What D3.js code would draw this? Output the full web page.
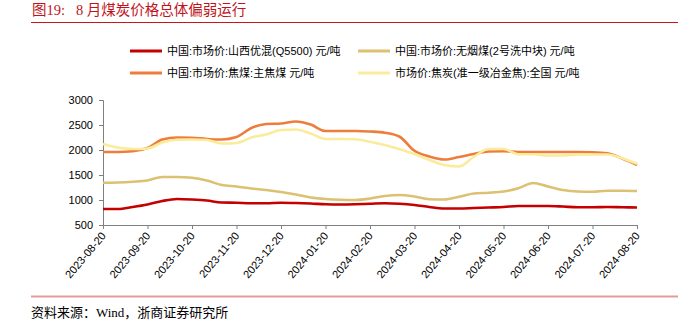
<!DOCTYPE html>
<html><head><meta charset="utf-8">
<script src="https://cdn.jsdelivr.net/npm/d3@7"></script>
<style>body{margin:0;background:#fff;} svg{display:block;}</style>
</head><body>
<script>
const dates = ["2023-08-20","2023-08-31","2023-09-10","2023-09-20","2023-09-30","2023-10-10","2023-10-20","2023-10-31","2023-11-10","2023-11-20","2023-11-30","2023-12-10","2023-12-20","2023-12-31","2024-01-10","2024-01-20","2024-01-31","2024-02-10","2024-02-20","2024-02-29","2024-03-10","2024-03-20","2024-03-31","2024-04-10","2024-04-20","2024-04-30","2024-05-10","2024-05-20","2024-05-31","2024-06-10","2024-06-20","2024-06-30","2024-07-10","2024-07-20","2024-07-31","2024-08-10","2024-08-20"];
const shanxiMixed = [820,820,860,910,980,1020,1010,990,950,945,935,935,945,940,930,915,910,915,925,935,925,900,860,830,830,840,850,860,880,880,880,870,855,855,860,855,850];
const anthracite = [1345,1350,1365,1390,1460,1460,1445,1390,1300,1270,1230,1200,1160,1110,1050,1020,1005,1000,1030,1080,1100,1070,1015,1010,1065,1130,1145,1170,1235,1340,1270,1200,1170,1165,1185,1185,1180];
const cokingCoal = [1960,1960,1975,2040,2210,2250,2245,2220,2210,2260,2440,2520,2530,2570,2510,2380,2380,2380,2370,2345,2265,1985,1870,1810,1860,1920,1970,1975,1960,1960,1960,1960,1960,1955,1935,1830,1700];
const coke = [2120,2050,2020,2030,2150,2205,2210,2200,2130,2140,2250,2310,2400,2410,2330,2220,2220,2215,2165,2100,2015,1920,1800,1700,1670,1865,2020,2020,1915,1915,1890,1890,1910,1910,1910,1835,1725];
const seriesNames = ["中国:市场价:山西优混(Q5500) 元/吨","中国:市场价:无烟煤(2号洗中块) 元/吨","中国:市场价:焦煤:主焦煤 元/吨","市场价:焦炭(准一级冶金焦):全国 元/吨"];
const seriesColors = ["#C40000","#DCC172","#EE7D3C","#FAEC9C"];
const yTicks = [500,1000,1500,2000,2500,3000];
const xTickLabels = ["2023-08-20","2023-09-20","2023-10-20","2023-11-20","2023-12-20","2024-01-20","2024-02-20","2024-03-20","2024-04-20","2024-05-20","2024-06-20","2024-07-20","2024-08-20"];
const titleText = "图19:   8 月煤炭价格总体偏弱运行";
const sourceText = "资料来源：Wind，浙商证券研究所";

const W = 698, H = 326;
const svg = d3.select("body").append("svg").attr("width", W).attr("height", H);
const cjk = "'Liberation Sans', Arial, 'Noto Sans CJK SC', sans-serif";
const serif = "'Liberation Serif', 'Noto Sans CJK SC', serif";

// title
svg.append("text").attr("x", 32).attr("y", 15).attr("fill", "#C0141C")
  .attr("font-family", serif).attr("font-size", 14.5).style("white-space", "pre")
  .attr("xml:space", "preserve").text(titleText);
svg.append("line").attr("x1", 31).attr("x2", 678).attr("y1", 22.5).attr("y2", 22.5)
  .attr("stroke", "#C8161D").attr("stroke-width", 1.2);

// scales
const x = d3.scalePoint().domain(dates).range([103, 637]);
const y = d3.scaleLinear().domain([500, 3000]).range([225, 100]);

// axes
const yAxis = svg.append("g").attr("transform", "translate(103,0)")
  .call(d3.axisLeft(y).tickValues(yTicks).tickSize(4).tickPadding(6).tickFormat(d3.format("d")));
yAxis.select(".domain").attr("stroke", "#808080");
yAxis.selectAll(".tick line").attr("stroke", "#808080");
yAxis.selectAll("text").attr("font-family", cjk).attr("font-size", 11).attr("fill", "#000");

const xAxis = svg.append("g").attr("transform", "translate(0,225)")
  .call(d3.axisBottom(x).tickValues(xTickLabels).tickSize(4).tickSizeOuter(0));
xAxis.select(".domain").attr("stroke", "#808080");
xAxis.selectAll(".tick line").attr("stroke", "#808080");
xAxis.selectAll("text").attr("font-family", cjk).attr("font-size", 11).attr("fill", "#000")
  .attr("text-anchor", "end").attr("dy", null).attr("y", null)
  .attr("transform", "translate(3,11) rotate(-50)");

// lines
const allSeries = [shanxiMixed, anthracite, cokingCoal, coke];
const line = d3.line().x((d, i) => x(dates[i])).y(d => y(d)).curve(d3.curveMonotoneX);
allSeries.forEach((s, k) => {
  svg.append("path").datum(s).attr("d", line).attr("fill", "none")
    .attr("stroke", seriesColors[k]).attr("stroke-width", 2.6).attr("stroke-linejoin", "round");
});

// legend
const legPos = [[130, 51], [358, 51], [130, 73], [358, 73]];
seriesNames.forEach((n, k) => {
  const [lx, ly] = legPos[k];
  svg.append("line").attr("x1", lx).attr("x2", lx + 32).attr("y1", ly).attr("y2", ly)
    .attr("stroke", seriesColors[k]).attr("stroke-width", 3);
  svg.append("text").attr("x", lx + 37).attr("y", ly + 4).attr("font-family", cjk)
    .attr("font-size", 11).attr("fill", "#000").text(n);
});

// footer
svg.append("line").attr("x1", 31).attr("x2", 678).attr("y1", 296.5).attr("y2", 296.5)
  .attr("stroke", "#E39A9C").attr("stroke-width", 1.8);
svg.append("text").attr("x", 31).attr("y", 317).attr("font-family", serif)
  .attr("font-size", 13).attr("fill", "#000").text(sourceText);
</script>
</body></html>
